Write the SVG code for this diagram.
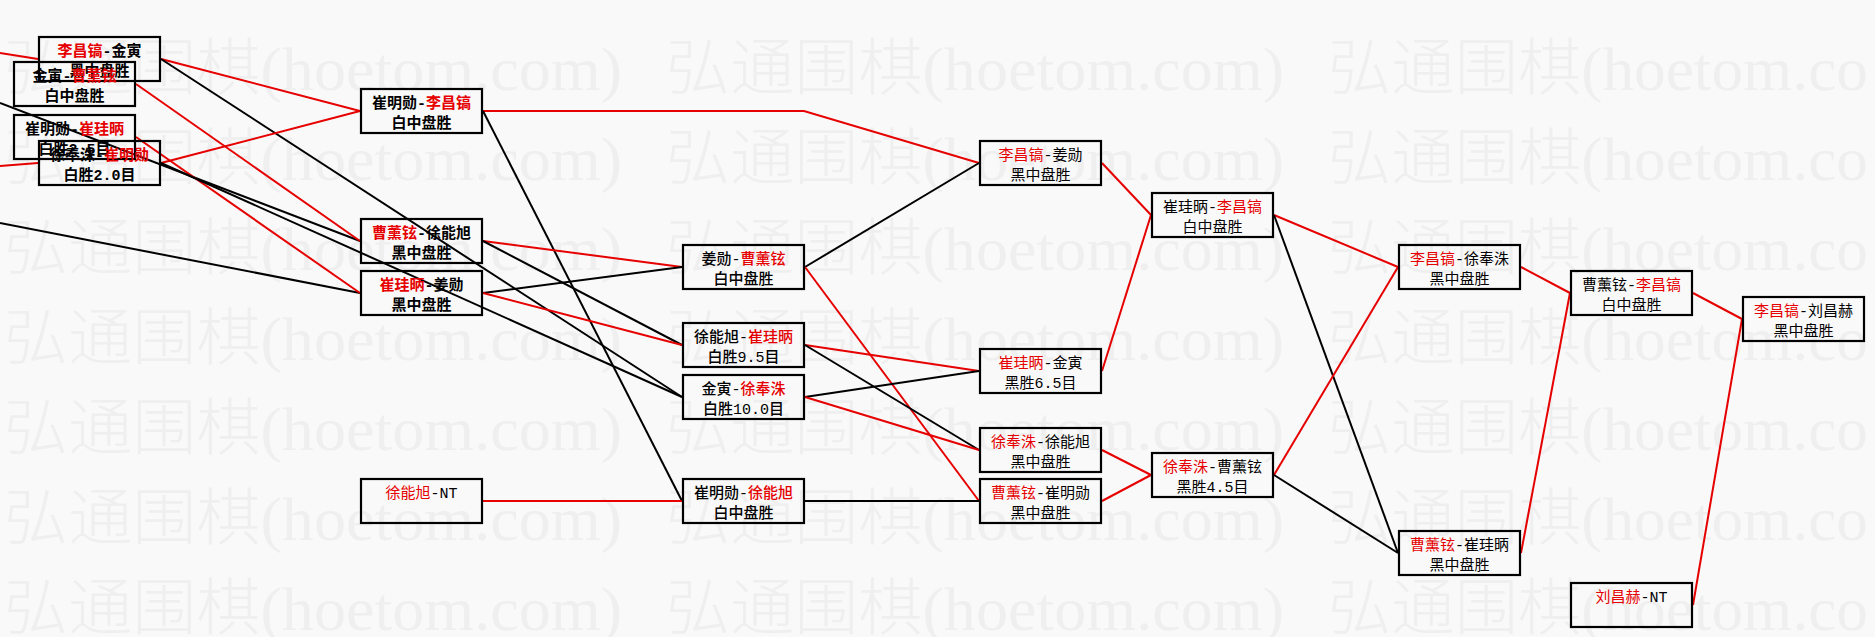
<svg xmlns="http://www.w3.org/2000/svg" width="1875" height="637" viewBox="0 0 1875 637">
<style>
.bx{fill:none;stroke:#000;stroke-width:2.2}
.t{font-family:"Liberation Mono","Noto Sans CJK SC",monospace;font-size:15px;fill:#000;text-anchor:middle}
.b{font-weight:600}
.m{font-weight:500}
.r{fill:#e60000}
.k{stroke:#000;stroke-width:2;fill:none}
.rd{stroke:#e60000;stroke-width:2;fill:none}
.wm{font-family:"Liberation Serif","Noto Sans CJK SC",serif;font-size:62px;font-weight:300;fill:#efefef}
</style>
<rect x="0" y="0" width="1875" height="637" fill="#f9f9f9"/>
<g id="watermark">
<text class="wm" x="4" y="90" textLength="618" lengthAdjust="spacingAndGlyphs">弘通围棋(hoetom.com)</text>
<text class="wm" x="666" y="90" textLength="618" lengthAdjust="spacingAndGlyphs">弘通围棋(hoetom.com)</text>
<text class="wm" x="1328" y="90" textLength="540" lengthAdjust="spacingAndGlyphs">弘通围棋(hoetom.co</text>
<text class="wm" x="4" y="180" textLength="618" lengthAdjust="spacingAndGlyphs">弘通围棋(hoetom.com)</text>
<text class="wm" x="666" y="180" textLength="618" lengthAdjust="spacingAndGlyphs">弘通围棋(hoetom.com)</text>
<text class="wm" x="1328" y="180" textLength="540" lengthAdjust="spacingAndGlyphs">弘通围棋(hoetom.co</text>
<text class="wm" x="4" y="270" textLength="618" lengthAdjust="spacingAndGlyphs">弘通围棋(hoetom.com)</text>
<text class="wm" x="666" y="270" textLength="618" lengthAdjust="spacingAndGlyphs">弘通围棋(hoetom.com)</text>
<text class="wm" x="1328" y="270" textLength="540" lengthAdjust="spacingAndGlyphs">弘通围棋(hoetom.co</text>
<text class="wm" x="4" y="360" textLength="618" lengthAdjust="spacingAndGlyphs">弘通围棋(hoetom.com)</text>
<text class="wm" x="666" y="360" textLength="618" lengthAdjust="spacingAndGlyphs">弘通围棋(hoetom.com)</text>
<text class="wm" x="1328" y="360" textLength="540" lengthAdjust="spacingAndGlyphs">弘通围棋(hoetom.co</text>
<text class="wm" x="4" y="450" textLength="618" lengthAdjust="spacingAndGlyphs">弘通围棋(hoetom.com)</text>
<text class="wm" x="666" y="450" textLength="618" lengthAdjust="spacingAndGlyphs">弘通围棋(hoetom.com)</text>
<text class="wm" x="1328" y="450" textLength="540" lengthAdjust="spacingAndGlyphs">弘通围棋(hoetom.co</text>
<text class="wm" x="4" y="540" textLength="618" lengthAdjust="spacingAndGlyphs">弘通围棋(hoetom.com)</text>
<text class="wm" x="666" y="540" textLength="618" lengthAdjust="spacingAndGlyphs">弘通围棋(hoetom.com)</text>
<text class="wm" x="1328" y="540" textLength="540" lengthAdjust="spacingAndGlyphs">弘通围棋(hoetom.co</text>
<text class="wm" x="4" y="630" textLength="618" lengthAdjust="spacingAndGlyphs">弘通围棋(hoetom.com)</text>
<text class="wm" x="666" y="630" textLength="618" lengthAdjust="spacingAndGlyphs">弘通围棋(hoetom.com)</text>
<text class="wm" x="1328" y="630" textLength="540" lengthAdjust="spacingAndGlyphs">弘通围棋(hoetom.co</text>
</g>
<g id="connectors">
<line class="rd" x1="0" y1="53" x2="38" y2="59"/>
<line class="k" x1="0" y1="103" x2="360" y2="241"/>
<line class="rd" x1="0" y1="166" x2="38" y2="163"/>
<line class="k" x1="0" y1="223" x2="360" y2="293"/>
<line class="rd" x1="161" y1="59" x2="360" y2="111"/>
<line class="k" x1="161" y1="59" x2="682" y2="397"/>
<line class="rd" x1="136" y1="84" x2="360" y2="241"/>
<line class="rd" x1="136" y1="137" x2="360" y2="293"/>
<line class="rd" x1="161" y1="163" x2="360" y2="111"/>
<line class="k" x1="161" y1="163" x2="682" y2="397"/>
<polyline class="rd" points="483,111 804,111 979,163"/>
<line class="k" x1="483" y1="111" x2="682" y2="501"/>
<line class="rd" x1="483" y1="241" x2="682" y2="267"/>
<line class="k" x1="483" y1="241" x2="682" y2="345"/>
<line class="k" x1="483" y1="293" x2="682" y2="267"/>
<line class="rd" x1="483" y1="293" x2="682" y2="345"/>
<line class="rd" x1="483" y1="501" x2="682" y2="501"/>
<line class="k" x1="805" y1="267" x2="979" y2="163"/>
<line class="rd" x1="805" y1="267" x2="979" y2="501"/>
<line class="rd" x1="805" y1="345" x2="979" y2="371"/>
<line class="k" x1="805" y1="345" x2="979" y2="450"/>
<line class="k" x1="805" y1="397" x2="979" y2="371"/>
<line class="rd" x1="805" y1="397" x2="979" y2="450"/>
<line class="k" x1="805" y1="501" x2="979" y2="501"/>
<line class="rd" x1="1102" y1="163" x2="1151" y2="215"/>
<line class="rd" x1="1102" y1="371" x2="1151" y2="215"/>
<line class="rd" x1="1102" y1="450" x2="1151" y2="475"/>
<line class="rd" x1="1102" y1="501" x2="1151" y2="475"/>
<line class="rd" x1="1274" y1="215" x2="1398" y2="267"/>
<line class="k" x1="1274" y1="215" x2="1398" y2="553"/>
<line class="rd" x1="1274" y1="475" x2="1398" y2="267"/>
<line class="k" x1="1274" y1="475" x2="1398" y2="553"/>
<line class="rd" x1="1521" y1="267" x2="1570" y2="293"/>
<line class="rd" x1="1521" y1="553" x2="1570" y2="293"/>
<line class="rd" x1="1693" y1="293" x2="1742" y2="319"/>
<line class="rd" x1="1693" y1="605" x2="1742" y2="319"/>
</g>
<g id="A1"><rect class="bx" x="39" y="37" width="121" height="44"/><text class="t b" x="99.5" y="55.5"><tspan class="r">李昌镐</tspan>-金寅</text><text class="t b" x="99.5" y="76">黑中盘胜</text></g>
<g id="A2"><rect class="bx" x="14" y="62" width="121" height="44"/><text class="t b" x="74.5" y="80.5">金寅-<tspan class="r">曹薰铉</tspan></text><text class="t b" x="74.5" y="101">白中盘胜</text></g>
<g id="A3"><rect class="bx" x="14" y="115" width="121" height="44"/><text class="t b" x="74.5" y="133.5">崔明勋-<tspan class="r">崔珪昞</tspan></text><text class="t b" x="74.5" y="154">白胜2.5目</text></g>
<g id="A4"><rect class="bx" x="39" y="141" width="121" height="44"/><text class="t b" x="99.5" y="159.5">徐奉洙-<tspan class="r">崔明勋</tspan></text><text class="t b" x="99.5" y="180">白胜2.0目</text></g>
<g id="B1"><rect class="bx" x="361" y="89" width="121" height="44"/><text class="t b" x="421.5" y="107.5">崔明勋-<tspan class="r">李昌镐</tspan></text><text class="t b" x="421.5" y="128">白中盘胜</text></g>
<g id="B2"><rect class="bx" x="361" y="219" width="121" height="44"/><text class="t b" x="421.5" y="237.5"><tspan class="r">曹薰铉</tspan>-徐能旭</text><text class="t b" x="421.5" y="258">黑中盘胜</text></g>
<g id="B3"><rect class="bx" x="361" y="271" width="121" height="44"/><text class="t b" x="421.5" y="289.5"><tspan class="r">崔珪昞</tspan>-姜勋</text><text class="t b" x="421.5" y="310">黑中盘胜</text></g>
<g id="B4"><rect class="bx" x="361" y="479" width="121" height="44"/><text class="t" x="421.5" y="498"><tspan class="r">徐能旭</tspan>-NT</text></g>
<g id="C1"><rect class="bx" x="683" y="245" width="121" height="44"/><text class="t m" x="743.5" y="263.5">姜勋-<tspan class="r">曹薰铉</tspan></text><text class="t m" x="743.5" y="284">白中盘胜</text></g>
<g id="C2"><rect class="bx" x="683" y="323" width="121" height="44"/><text class="t m" x="743.5" y="341.5">徐能旭-<tspan class="r">崔珪昞</tspan></text><text class="t m" x="743.5" y="362">白胜9.5目</text></g>
<g id="C3"><rect class="bx" x="683" y="375" width="121" height="44"/><text class="t m" x="743.5" y="393.5">金寅-<tspan class="r">徐奉洙</tspan></text><text class="t m" x="743.5" y="414">白胜10.0目</text></g>
<g id="C4"><rect class="bx" x="683" y="479" width="121" height="44"/><text class="t m" x="743.5" y="497.5">崔明勋-<tspan class="r">徐能旭</tspan></text><text class="t m" x="743.5" y="518">白中盘胜</text></g>
<g id="D1"><rect class="bx" x="980" y="141" width="121" height="44"/><text class="t" x="1040.5" y="159.5"><tspan class="r">李昌镐</tspan>-姜勋</text><text class="t" x="1040.5" y="180">黑中盘胜</text></g>
<g id="D2"><rect class="bx" x="980" y="349" width="121" height="44"/><text class="t" x="1040.5" y="367.5"><tspan class="r">崔珪昞</tspan>-金寅</text><text class="t" x="1040.5" y="388">黑胜6.5目</text></g>
<g id="D3"><rect class="bx" x="980" y="428" width="121" height="44"/><text class="t" x="1040.5" y="446.5"><tspan class="r">徐奉洙</tspan>-徐能旭</text><text class="t" x="1040.5" y="467">黑中盘胜</text></g>
<g id="D4"><rect class="bx" x="980" y="479" width="121" height="44"/><text class="t" x="1040.5" y="497.5"><tspan class="r">曹薰铉</tspan>-崔明勋</text><text class="t" x="1040.5" y="518">黑中盘胜</text></g>
<g id="E1"><rect class="bx" x="1152" y="193" width="121" height="44"/><text class="t" x="1212.5" y="211.5">崔珪昞-<tspan class="r">李昌镐</tspan></text><text class="t" x="1212.5" y="232">白中盘胜</text></g>
<g id="E2"><rect class="bx" x="1152" y="453" width="121" height="44"/><text class="t" x="1212.5" y="471.5"><tspan class="r">徐奉洙</tspan>-曹薰铉</text><text class="t" x="1212.5" y="492">黑胜4.5目</text></g>
<g id="F1"><rect class="bx" x="1399" y="245" width="121" height="44"/><text class="t" x="1459.5" y="263.5"><tspan class="r">李昌镐</tspan>-徐奉洙</text><text class="t" x="1459.5" y="284">黑中盘胜</text></g>
<g id="F2"><rect class="bx" x="1399" y="531" width="121" height="44"/><text class="t" x="1459.5" y="549.5"><tspan class="r">曹薰铉</tspan>-崔珪昞</text><text class="t" x="1459.5" y="570">黑中盘胜</text></g>
<g id="G1"><rect class="bx" x="1571" y="271" width="121" height="44"/><text class="t" x="1631.5" y="289.5">曹薰铉-<tspan class="r">李昌镐</tspan></text><text class="t" x="1631.5" y="310">白中盘胜</text></g>
<g id="G2"><rect class="bx" x="1571" y="583" width="121" height="44"/><text class="t" x="1631.5" y="602"><tspan class="r">刘昌赫</tspan>-NT</text></g>
<g id="H1"><rect class="bx" x="1743" y="297" width="121" height="44"/><text class="t" x="1803.5" y="315.5"><tspan class="r">李昌镐</tspan>-刘昌赫</text><text class="t" x="1803.5" y="336">黑中盘胜</text></g>
</svg>
